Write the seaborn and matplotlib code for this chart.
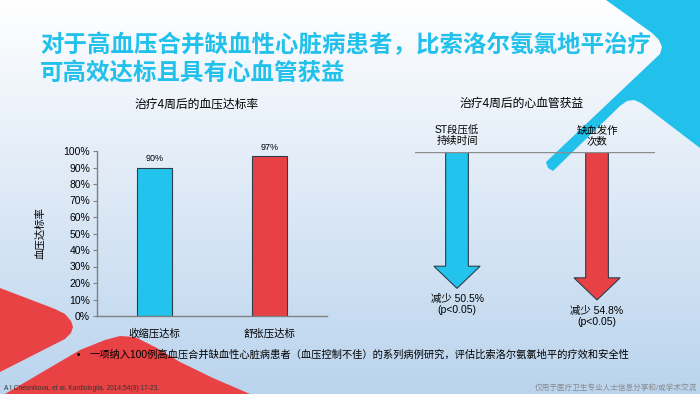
import numpy as np
import pandas as pd
import matplotlib
matplotlib.use("Agg")
import matplotlib.pyplot as plt
from matplotlib.patches import Polygon
from matplotlib.colors import LinearSegmentedColormap
import seaborn as sns

plt.rcParams["font.family"] = ["Liberation Sans", "Noto Sans CJK SC", "DejaVu Sans"]

# ---- data ----
bp_categories = ["收缩压达标", "舒张压达标"]
bp_rates = [90, 97]
bp_colors = ["#22C3EC", "#E84145"]
y_ticks = [0, 10, 20, 30, 40, 50, 60, 70, 80, 90, 100]

cv_labels = ["ST段压低\n持续时间", "缺血发作\n次数"]
cv_reduction = [50.5, 54.8]
cv_pvalues = ["p<0.05", "p<0.05"]

title_lines = ["对于高血压合并缺血性心脏病患者，比索洛尔氨氯地平治疗", "可高效达标且具有心血管获益"]
bullet_note = "一项纳入100例高血压合并缺血性心脏病患者（血压控制不佳）的系列病例研究，评估比索洛尔氨氯地平的疗效和安全性"
reference = "A I Chesnikova, et al. Kardiologiia. 2014;54(9):17-23."
disclaimer = "仅用于医疗卫生专业人士信息分享和/或学术交流"

CYAN = "#22C1EB"
RED = "#E84244"
EDGE = "#2B3E4C"

W, H = 700, 394


def fx(x):
    return x / W


def fy(y):
    return 1 - y / H


fig = plt.figure(figsize=(7, 3.94), dpi=100)

# background gradient + decorative shapes (pixel coords)
bg = fig.add_axes([0, 0, 1, 1], zorder=-10)
grad = np.linspace(0, 1, 256).reshape(-1, 1)
cmap = LinearSegmentedColormap.from_list("bg", ["#FFFFFF", "#DDE9F6", "#BAD4EE"])
bg.imshow(grad, extent=[0, W, H, 0], aspect="auto", cmap=cmap)
cyan_shape = [(606, 0), (652, 33), (659, 40), (662, 47), (660, 54), (546, 162),
              (548, 168), (553, 171), (620, 106), (627, 101), (634, 100),
              (641, 103), (700, 148), (700, 0)]
red_shape1 = [(0, 288), (55, 309), (65, 314), (71, 321), (73, 327), (71, 333),
              (65, 339), (0, 372)]
red_shape2 = [(5, 394), (80, 350), (105, 340), (120, 336), (135, 337), (157, 348),
              (180, 362), (213, 378), (250, 394)]
bg.add_patch(Polygon(cyan_shape, closed=True, fc=CYAN, ec="none"))
bg.add_patch(Polygon(red_shape1, closed=True, fc=RED, ec="none"))
bg.add_patch(Polygon(red_shape2, closed=True, fc=RED, ec="none"))
bg.set_xlim(0, W)
bg.set_ylim(H, 0)
bg.axis("off")

# title
for i, line in enumerate(title_lines):
    fig.text(fx(40), fy(45 + 28 * i), line, fontsize=16.9, fontweight="bold",
             color=CYAN, va="center", ha="left")

# ---- left: bar chart ----
ax1 = fig.add_axes([fx(97), fy(316), 230 / W, 165 / H])
ax1.patch.set_alpha(0)
df = pd.DataFrame({"cat": bp_categories, "rate": bp_rates})
sns.barplot(data=df, x="cat", y="rate", hue="cat", palette=bp_colors, width=0.31,
            edgecolor=EDGE, linewidth=0.8, legend=False, saturation=1, ax=ax1)
ax1.set_xlim(-0.5, 1.5)
ax1.set_ylim(0, 100)
ax1.set_yticks(y_ticks)
ax1.set_yticklabels([f"{t}%" for t in y_ticks])
for s in ["top", "right"]:
    ax1.spines[s].set_visible(False)
for s in ["left", "bottom"]:
    ax1.spines[s].set_color("#808080")
    ax1.spines[s].set_linewidth(1)
ax1.tick_params(axis="y", direction="out", length=3, color="#808080", labelsize=7.5, pad=2)
ax1.tick_params(axis="x", length=0, labelsize=7.5, pad=9)
for c in ax1.containers:
    ax1.bar_label(c, fmt="%g%%", padding=3, fontsize=6.5)
ax1.set_xlabel("")
ax1.set_ylabel("血压达标率", fontsize=7.5)
ax1.yaxis.set_label_coords(-0.226, 0.5)
fig.text(fx(197), fy(105), "治疗4周后的血压达标率", fontsize=8.5, ha="center", va="center")

# ---- right: arrows ----
ax2 = fig.add_axes([fx(415), fy(341), 240 / W, 189 / H])
ax2.set_xlim(-0.3, 1.414)
ax2.set_ylim(70, 0)
for i, (v, col) in enumerate(zip(cv_reduction, bp_colors)):
    ax2.arrow(i, 0, 0, v, width=0.162, head_width=0.33, head_length=8.2,
              length_includes_head=True, fc=col, ec=EDGE, lw=0.8)
    ax2.annotate(cv_labels[i], xy=(i, 0), xytext=(0, 4), textcoords="offset points",
                 ha="center", va="bottom", fontsize=7.5, linespacing=1.1)
    ax2.annotate(f"减少 {v}%\n({cv_pvalues[i]})", xy=(i, v), xytext=(0, -4),
                 textcoords="offset points", ha="center", va="top", fontsize=7.5,
                 linespacing=1.15)
ax2.axhline(0, color="#8C8C8C", lw=1)
ax2.axis("off")
fig.text(fx(521.7), fy(104), "治疗4周后的心血管获益", fontsize=8.5, ha="center", va="center")

# ---- notes ----
fig.text(fx(78), fy(355), "•", fontsize=7, ha="center", va="center")
fig.text(fx(90), fy(355), bullet_note, fontsize=7.4, ha="left", va="center")
fig.text(fx(4), fy(388), reference, fontsize=4.8, ha="left", va="center", color="#333333")
fig.text(fx(697), fy(388), disclaimer, fontsize=5.5, ha="right", va="center", color="#8A8A8A")

fig.savefig("out.png", dpi=100)
